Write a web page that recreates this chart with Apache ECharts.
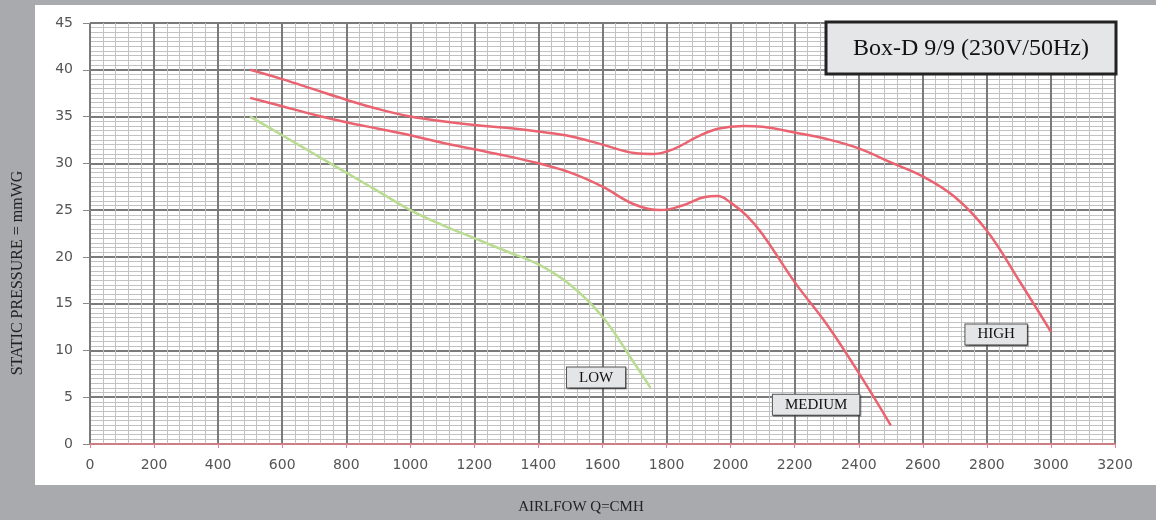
<!DOCTYPE html>
<html>
<head>
<meta charset="utf-8">
<script src="https://cdn.jsdelivr.net/npm/echarts@6/dist/echarts.min.js"></script>
<style>
  html, body { margin: 0; padding: 0; background: #a9aaae; }
  #chart { width: 1156px; height: 520px; }
</style>
</head>
<body>
<div id="chart"></div>
<script>
// ===== Data =====
const xTicks = [0, 200, 400, 600, 800, 1000, 1200, 1400, 1600, 1800, 2000, 2200, 2400, 2600, 2800, 3000, 3200];
const yTicks = [0, 5, 10, 15, 20, 25, 30, 35, 40, 45];

const highQ = [500, 600, 700, 800, 900, 1000, 1100, 1200, 1300, 1400, 1500, 1600, 1700, 1760, 1820, 1900, 1960, 2040, 2100, 2200, 2300, 2400, 2500, 2600, 2700, 2800, 2900, 3000];
const highP = [40, 39, 37.9, 36.8, 35.8, 35, 34.5, 34.1, 33.8, 33.4, 32.9, 32, 31.1, 31, 31.5, 32.9, 33.7, 34, 33.9, 33.3, 32.6, 31.6, 30.1, 28.6, 26.4, 22.8, 17.5, 12];

const medQ = [500, 600, 700, 800, 900, 1000, 1100, 1200, 1300, 1400, 1500, 1600, 1700, 1780, 1850, 1920, 1960, 2000, 2050, 2100, 2200, 2300, 2400, 2500];
const medP = [37, 36.1, 35.2, 34.4, 33.7, 33, 32.2, 31.5, 30.8, 30, 29, 27.5, 25.6, 25, 25.5, 26.4, 26.5, 25.8, 24.4, 22.4, 17.3, 12.8, 7.6, 2];

const lowQ = [500, 600, 700, 800, 900, 1000, 1100, 1200, 1300, 1400, 1500, 1600, 1700, 1750];
const lowP = [35, 33, 31, 29, 27, 25, 23.4, 22, 20.6, 19.2, 17, 13.6, 8.6, 6];

const curveNames = ['HIGH', 'MEDIUM', 'LOW'];
// where the little name boxes sit (data coords)
const tagQ = [2829, 2267, 1580];
const tagP = [11.7, 4.2, 7.1];

const RED = '#ea6370';
const GREEN = '#b9dc92';

const pairs = (q, p) => q.map((v, i) => [v, p[i]]);

function tag(i) {
  return {
    symbol: 'rect',
    symbolSize: 1,
    itemStyle: { color: 'transparent' },
    label: {
      show: true,
      position: 'inside',
      formatter: curveNames[i],
      fontFamily: 'Liberation Serif',
      fontSize: 15,
      color: '#111',
      backgroundColor: '#e4e5e7',
      borderColor: '#555',
      borderWidth: 1,
      padding: [3, 12, 2, 12],
      shadowColor: 'rgba(0,0,0,.35)',
      shadowOffsetX: 1,
      shadowOffsetY: 1,
      shadowBlur: 1
    },
    data: [{ coord: [tagQ[i], tagP[i]] }]
  };
}

const chart = echarts.init(document.getElementById('chart'), null, { renderer: 'canvas' });

chart.setOption({
  animation: false,
  backgroundColor: '#a9aaae',
  graphic: [
    { type: 'rect', z: -10, shape: { x: 35, y: 5, width: 1121, height: 480 }, style: { fill: '#fff' } },
    {
      type: 'text', x: 18, y: 273, rotation: Math.PI / 2,
      style: { text: 'STATIC PRESSURE = mmWG', font: '16px "Liberation Serif"', fill: '#222', align: 'center', verticalAlign: 'middle' }
    },
    {
      type: 'text', x: 581, y: 507,
      style: { text: 'AIRLFOW Q=CMH', font: '15px "Liberation Serif"', fill: '#222', align: 'center', verticalAlign: 'middle' }
    },
    {
      type: 'rect', z: 100, zlevel: 1,
      shape: { x: 826, y: 22, width: 290, height: 52 },
      style: { fill: '#e5e6e8', stroke: '#222', lineWidth: 3 }
    },
    {
      type: 'text', z: 101, zlevel: 1, x: 971, y: 49,
      style: { text: 'Box-D 9/9 (230V/50Hz)', font: '24px "Liberation Serif"', fill: '#111', align: 'center', verticalAlign: 'middle' }
    }
  ],
  grid: { left: 90, right: 41, top: 23, bottom: 76 },
  xAxis: {
    type: 'value',
    min: xTicks[0], max: xTicks[xTicks.length - 1], interval: 200,
    axisLine: { show: true, onZero: false, lineStyle: { color: '#e8808c', width: 1.5 } },
    axisTick: { show: true, length: 4, lineStyle: { color: '#e8808c' } },
    axisLabel: { margin: 14, fontFamily: 'DejaVu Sans', fontSize: 14, color: '#555', formatter: v => String(v) },
    splitLine: { show: true, lineStyle: { color: '#7a7a7a', width: 2 } },
    minorTick: { show: true, splitNumber: 5, length: 0 },
    minorSplitLine: { show: true, lineStyle: { color: '#c2c2c2', width: 1 } }
  },
  yAxis: {
    type: 'value',
    min: yTicks[0], max: yTicks[yTicks.length - 1], interval: 5,
    axisLine: { show: false },
    axisTick: { show: true, length: 7, lineStyle: { color: '#888' } },
    axisLabel: { margin: 17, fontFamily: 'DejaVu Sans', fontSize: 14, color: '#555', formatter: v => String(v) },
    splitLine: { show: true, lineStyle: { color: '#7a7a7a', width: 2 } },
    minorTick: { show: true, splitNumber: 10, length: 0 },
    minorSplitLine: { show: true, lineStyle: { color: '#c2c2c2', width: 1 } }
  },
  series: [
    { name: 'HIGH', type: 'line', data: pairs(highQ, highP), smooth: 0.4, showSymbol: false,
      lineStyle: { color: RED, width: 2.5 }, markPoint: tag(0) },
    { name: 'MEDIUM', type: 'line', data: pairs(medQ, medP), smooth: 0.4, showSymbol: false,
      lineStyle: { color: RED, width: 2.5 }, markPoint: tag(1) },
    { name: 'LOW', type: 'line', data: pairs(lowQ, lowP), smooth: 0.4, showSymbol: false,
      lineStyle: { color: GREEN, width: 2.5 }, markPoint: tag(2) }
  ]
});
</script>
</body>
</html>
